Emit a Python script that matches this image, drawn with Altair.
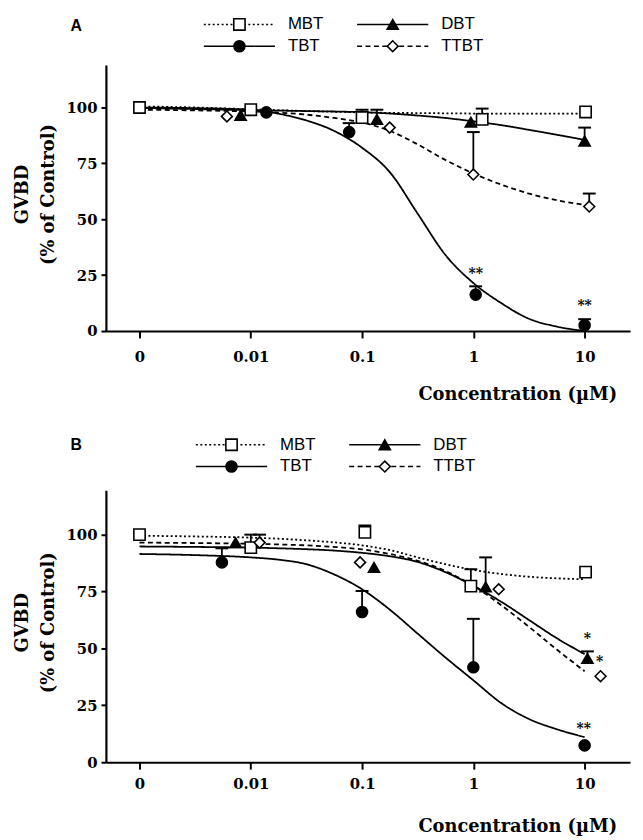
import altair as alt
import pandas as pd

SERIES = ["MBT", "DBT", "TBT", "TTBT"]
SHAPES = ["square", "triangle-up", "circle", "diamond"]
FILLS = ["white", "black", "black", "white"]
SIZES = [130, 120, 100, 125]
DASHES = [[2, 3], [1, 0], [1, 0], [7, 5]]

# concentrations (uM) at which the fitted curves were read; "0" is drawn at 0.001
CURVE_CONC = [0.001, 0.00316, 0.01, 0.0178, 0.0316, 0.0562, 0.1, 0.178,
              0.316, 0.562, 1.0, 1.78, 3.16, 5.62, 10.0]

# ---- Panel A: fitted curves (% of control)
A_MBT_CURVE = [100.5, 100.0, 99.2, 98.8, 98.4, 98.1, 97.8, 97.6, 97.5, 97.4, 97.3, 97.3, 97.3, 97.3, 97.3]
A_DBT_CURVE = [99.8, 99.3, 98.8, 98.6, 98.4, 98.2, 97.9, 97.3, 96.4, 95.3, 93.8, 92.1, 90.0, 87.8, 85.5]
A_TBT_CURVE = [100.0, 99.7, 99.0, 97.2, 94.2, 89.5, 82.0, 71.0, 52.5, 34.0, 21.5, 12.5, 5.5, 2.0, 0.0]
A_TTBT_CURVE = [99.0, 98.7, 98.2, 97.7, 96.8, 95.3, 93.3, 89.5, 83.5, 76.5, 70.5, 65.5, 61.5, 58.5, 56.5]

# ---- Panel A: measured points (x, mean, upper error)
A_MBT_X = [0.001, 0.01, 0.1, 1.2, 10.2]
A_MBT_Y = [100.0, 99.0, 95.5, 94.7, 98.0]
A_MBT_HI = [None, None, 99.0, 99.5, None]
A_DBT_X = [0.0081, 0.136, 0.95, 10.0]
A_DBT_Y = [96.5, 94.7, 93.4, 85.0]
A_DBT_HI = [None, 99.0, None, 91.0]
A_TBT_X = [0.0138, 0.0766, 1.05, 10.0]
A_TBT_Y = [97.8, 89.0, 16.3, 2.6]
A_TBT_HI = [None, 93.0, 20.0, 5.3]
A_TTBT_X = [0.0061, 0.177, 1.0, 11.0]
A_TTBT_Y = [96.0, 91.0, 70.0, 55.7]
A_TTBT_HI = [None, None, 89.0, 61.5]
A_STAR_X = [1.05, 10.0]
A_STAR_Y = [27.4, 12.8]
A_STAR_TEXT = ["**", "**"]

# ---- Panel B: fitted curves
B_MBT_CURVE = [99.5, 99.2, 98.7, 98.2, 97.5, 96.6, 95.3, 93.2, 90.0, 87.0, 84.5, 82.7, 81.5, 80.8, 80.4]
B_DBT_CURVE = [94.8, 94.6, 94.3, 94.0, 93.6, 93.0, 92.0, 90.5, 88.0, 83.5, 77.5, 70.5, 62.5, 54.5, 47.5]
B_TBT_CURVE = [91.5, 91.0, 90.0, 89.0, 87.0, 82.5, 76.0, 67.0, 56.5, 46.0, 36.0, 26.0, 19.0, 14.5, 11.0]
B_TTBT_CURVE = [96.5, 96.3, 96.0, 95.7, 95.3, 94.6, 93.5, 91.5, 88.5, 84.0, 77.5, 69.0, 59.5, 49.5, 40.0]

# ---- Panel B: measured points
B_MBT_X = [0.001, 0.01, 0.106, 0.95, 10.2]
B_MBT_Y = [100.0, 94.3, 101.0, 77.4, 83.5]
B_MBT_HI = [None, 100.0, 104.0, 84.8, None]
B_DBT_X = [0.0073, 0.128, 1.29, 10.6]
B_DBT_Y = [96.5, 85.6, 77.0, 45.6]
B_DBT_HI = [None, None, 90.0, 48.7]
B_TBT_X = [0.0055, 0.1, 1.0, 10.0]
B_TBT_Y = [87.8, 66.0, 41.7, 7.4]
B_TBT_HI = [94.0, 75.2, 63.0, None]
B_TTBT_X = [0.012, 0.096, 1.69, 13.9]
B_TTBT_Y = [96.5, 87.8, 76.0, 37.8]
B_TTBT_HI = [100.0, None, None, None]
B_STAR_X = [10.6, 13.6, 9.8]
B_STAR_Y = [55.7, 45.6, 16.5]
B_STAR_TEXT = ["*", "*", "**"]

X_TICKS = [0.001, 0.01, 0.1, 1, 10]
Y_TICKS = [0, 25, 50, 75, 100]
X_DOMAIN = [0.000499, 25.6]
W = 530

SERIF = "DejaVu Serif"
SANS = "Liberation Sans"

shape_scale = alt.Scale(domain=SERIES, range=SHAPES)
fill_scale = alt.Scale(domain=SERIES, range=FILLS)
size_scale = alt.Scale(domain=SERIES, range=SIZES)
dash_scale = alt.Scale(domain=SERIES, range=DASHES)


def curve_frame(curves):
    rows = []
    for s, vals in zip(SERIES, curves):
        for c, v in zip(CURVE_CONC, vals):
            rows.append({"series": s, "conc": c, "value": v})
    return pd.DataFrame(rows)


def point_frame(xs, ys, his):
    rows = []
    for s, xv, yv, hv in zip(SERIES, xs, ys, his):
        for c, v, h in zip(xv, yv, hv):
            rows.append({"series": s, "conc": c, "value": v, "hi": h})
    return pd.DataFrame(rows)


def panel_plot(curves, xs, ys, his, sx, sy, st, height, ymax, label_pad, title_y):
    x_enc = alt.X("conc:Q",
                  scale=alt.Scale(type="log", domain=X_DOMAIN),
                  axis=alt.Axis(values=X_TICKS,
                                labelExpr="datum.value < 0.005 ? '0' : toString(datum.value)",
                                title="Concentration (µM)", titleX=416, titleY=title_y,
                                titleAlign="center", titleBaseline="middle",
                                titleFont=SERIF, titleFontSize=18, titleFontWeight="bold",
                                labelFont=SERIF, labelFontSize=15, labelFontWeight="bold",
                                labelPadding=label_pad, tickSize=7, tickWidth=2,
                                domainWidth=2.2, grid=False, labelOverlap=False,
                                labelFlush=False,
                                domainColor="black", tickColor="black",
                                labelColor="black", titleColor="black"))
    y_enc = alt.Y("value:Q",
                  scale=alt.Scale(domain=[0, ymax], nice=False, zero=True),
                  axis=alt.Axis(values=Y_TICKS,
                                title=["GVBD", "(% of Control)"],
                                titleX=-84, titleY=height / 2 - 4, titleAngle=270,
                                titleAlign="center", titleBaseline="middle",
                                titleLineHeight=26,
                                titleFont=SERIF, titleFontSize=18, titleFontWeight="bold",
                                labelFont=SERIF, labelFontSize=15, labelFontWeight="bold",
                                labelPadding=4, tickSize=5, tickWidth=2,
                                domainWidth=2.2, grid=False,
                                domainColor="black", tickColor="black",
                                labelColor="black", titleColor="black"))

    cdf = curve_frame(curves)
    pdf = point_frame(xs, ys, his)
    edf = pdf.dropna(subset=["hi"]).copy()
    cap = edf.copy()
    cap["value"] = cap["hi"]
    sdf = pd.DataFrame({"conc": sx, "value": sy, "label": st})

    lines = alt.Chart(cdf).mark_line(color="black", strokeWidth=1.8,
                                     interpolate="monotone").encode(
        x=x_enc, y=y_enc,
        strokeDash=alt.StrokeDash("series:N", scale=dash_scale, legend=None),
        detail="series:N")
    bars = alt.Chart(edf).mark_rule(color="black", strokeWidth=1.8).encode(
        x=x_enc, y=y_enc, y2="hi:Q")
    caps = alt.Chart(cap).mark_tick(orient="horizontal", size=13, thickness=2,
                                    color="black", opacity=1).encode(x=x_enc, y=y_enc)
    pts = alt.Chart(pdf).mark_point(stroke="black", strokeWidth=1.6, opacity=1).encode(
        x=x_enc, y=y_enc,
        shape=alt.Shape("series:N", scale=shape_scale, legend=None),
        fill=alt.Fill("series:N", scale=fill_scale, legend=None),
        size=alt.Size("series:N", scale=size_scale, legend=None))
    stars = alt.Chart(sdf).mark_text(font=SERIF, fontSize=14, fontWeight="bold",
                                     color="black", dy=4).encode(
        x=x_enc, y=y_enc, text="label:N")
    return alt.layer(lines, bars, caps, pts, stars).properties(width=W, height=height)


# legend layout (pixels inside the legend strip)
LEG_COL_X = [99, 254]
LEG_LINE_LEN = 72
LEG_MARK_DX = 36
LEG_TEXT_DX = 85
LEG_COL = [0, 1, 0, 1]
LEG_ROW = [0, 0, 1, 1]


def legend_strip(letter, shift, height, row_y, letter_x, letter_y):
    rows = []
    for s, c, r in zip(SERIES, LEG_COL, LEG_ROW):
        x1 = LEG_COL_X[c] + shift
        rows.append({"series": s, "x1": x1, "x2": x1 + LEG_LINE_LEN,
                     "mx": x1 + LEG_MARK_DX, "tx": x1 + LEG_TEXT_DX, "ly": row_y[r]})
    df = pd.DataFrame(rows)
    base = alt.Chart(df)
    rule = base.mark_rule(color="black", strokeWidth=1.6).encode(
        x=alt.X("x1:Q", scale=None, axis=None), x2="x2:Q",
        y=alt.Y("ly:Q", scale=None, axis=None),
        strokeDash=alt.StrokeDash("series:N", scale=alt.Scale(domain=SERIES, range=[[2, 2.5], [1, 0], [1, 0], [5, 3.5]]), legend=None))
    mk = base.mark_point(stroke="black", strokeWidth=1.6, opacity=1).encode(
        x=alt.X("mx:Q", scale=None, axis=None), y=alt.Y("ly:Q", scale=None, axis=None),
        shape=alt.Shape("series:N", scale=shape_scale, legend=None),
        fill=alt.Fill("series:N", scale=fill_scale, legend=None),
        size=alt.Size("series:N", scale=size_scale, legend=None))
    tx = base.mark_text(align="left", baseline="middle", font=SANS, fontSize=17,
                        color="black").encode(
        x=alt.X("tx:Q", scale=None, axis=None), y=alt.Y("ly:Q", scale=None, axis=None),
        text="series:N")
    let = alt.Chart(pd.DataFrame({"t": [letter]})).mark_text(
        font=SANS, fontSize=16, fontWeight="bold", color="black",
        align="center", baseline="middle").encode(
        x=alt.value(letter_x), y=alt.value(letter_y), text="t:N")
    return alt.layer(rule, mk, tx, let).properties(width=W, height=height)


# strip above panel A (47 px), strip above panel B includes the 108 px gap
legA = legend_strip("A", 0, 47, [6, 28], -30, 8)
plotA = panel_plot([A_MBT_CURVE, A_DBT_CURVE, A_TBT_CURVE, A_TTBT_CURVE],
                   [A_MBT_X, A_DBT_X, A_TBT_X, A_TTBT_X],
                   [A_MBT_Y, A_DBT_Y, A_TBT_Y, A_TTBT_Y],
                   [A_MBT_HI, A_DBT_HI, A_TBT_HI, A_TTBT_HI],
                   A_STAR_X, A_STAR_Y, A_STAR_TEXT, 269, 119, 12, 64)
legB = legend_strip("B", -8, 161, [115, 137], -30, 115)
plotB = panel_plot([B_MBT_CURVE, B_DBT_CURVE, B_TBT_CURVE, B_TTBT_CURVE],
                   [B_MBT_X, B_DBT_X, B_TBT_X, B_TTBT_X],
                   [B_MBT_Y, B_DBT_Y, B_TBT_Y, B_TTBT_Y],
                   [B_MBT_HI, B_DBT_HI, B_TBT_HI, B_TTBT_HI],
                   B_STAR_X, B_STAR_Y, B_STAR_TEXT, 275, 119.5, 8, 65)

chart = alt.vconcat(legA, plotA, legB, plotB, spacing=0, bounds="flush").resolve_scale(
    x="independent", y="independent"
).properties(
    padding={"left": 6, "top": 3, "right": 5, "bottom": 0}
).configure_view(stroke=None)

chart.save("out.html", embed_options={"renderer": "svg", "actions": False})
